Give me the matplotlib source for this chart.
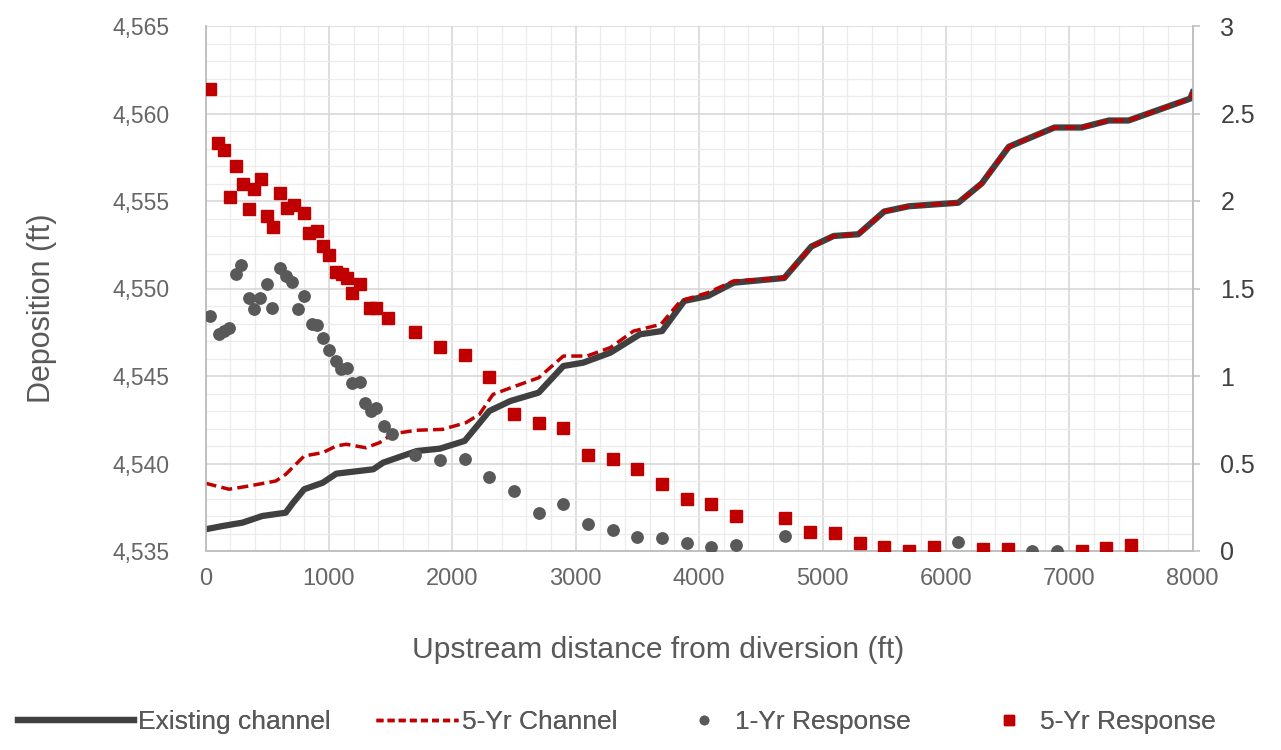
import matplotlib
matplotlib.use("Agg")
import matplotlib.pyplot as plt
from matplotlib.lines import Line2D
from matplotlib.ticker import MultipleLocator, FuncFormatter

plt.rcParams['font.family'] = ['Liberation Sans', 'DejaVu Sans']

# ---- data ----
exist_x = [0, 140, 300, 460, 650, 710, 800, 950, 1060, 1360, 1440, 1710, 1900, 2100,
           2200, 2300, 2470, 2700, 2900, 3060, 3280, 3520, 3700, 3880, 4070, 4280,
           4690, 4910, 5090, 5290, 5500, 5700, 6100, 6290, 6510, 6610, 6880, 7100,
           7320, 7480, 7980, 8000]
exist_y = [4536.24, 4536.43, 4536.62, 4537.0, 4537.19, 4537.76, 4538.53, 4538.9,
           4539.42, 4539.67, 4540.05, 4540.71, 4540.85, 4541.29, 4542.14, 4543.0,
           4543.57, 4544.05, 4545.57, 4545.76, 4546.33, 4547.38, 4547.57, 4549.29,
           4549.57, 4550.33, 4550.6, 4552.4, 4553.0, 4553.1, 4554.4, 4554.7, 4554.9,
           4556.0, 4558.1, 4558.4, 4559.2, 4559.2, 4559.6, 4559.6, 4560.85, 4561.2]

ch5_x = [0, 190, 350, 570, 650, 800, 950, 1060, 1140, 1300, 1410, 1520, 1710, 1920,
         2110, 2220, 2330, 2490, 2700, 2900, 3090, 3280, 3470, 3690, 3850, 4070, 4280,
         4690, 4910, 5090, 5290, 5500, 5700, 6100, 6290, 6510, 6610, 6880, 7100,
         7320, 7480, 7980, 8000]
ch5_y = [4538.87, 4538.53, 4538.71, 4539.0, 4539.38, 4540.43, 4540.62, 4541.0,
         4541.1, 4540.9, 4541.19, 4541.7, 4541.9, 4541.95, 4542.33, 4542.81, 4543.95,
         4544.37, 4544.9, 4546.14, 4546.14, 4546.62, 4547.57, 4547.95, 4549.29,
         4549.76, 4550.43, 4550.6, 4552.4, 4553.0, 4553.1, 4554.4, 4554.7, 4554.9,
         4556.0, 4558.1, 4558.4, 4559.2, 4559.2, 4559.6, 4559.6, 4560.85, 4561.2]

r1_x = [40, 110, 150, 190, 250, 290, 350, 440, 390, 500, 540, 600, 650, 700, 800,
        750, 860, 900, 950, 1000, 1060, 1100, 1150, 1190, 1250, 1290, 1340, 1380,
        1450, 1510, 1700, 1900, 2100, 2300, 2500, 2700, 2900, 3100, 3300, 3500,
        3700, 3900, 4100, 4300, 4700, 6100, 6700, 6900]
r1_y = [1.343, 1.242, 1.257, 1.273, 1.585, 1.634, 1.447, 1.447, 1.381, 1.524, 1.39,
        1.619, 1.571, 1.539, 1.457, 1.381, 1.299, 1.291, 1.219, 1.147, 1.086, 1.038,
        1.047, 0.962, 0.966, 0.847, 0.80, 0.819, 0.714, 0.667, 0.549, 0.518, 0.524,
        0.423, 0.343, 0.215, 0.27, 0.153, 0.118, 0.08, 0.073, 0.047, 0.025, 0.034,
        0.086, 0.051, 0.0, 0.0]

r5_x = [40, 100, 150, 200, 250, 300, 350, 390, 450, 500, 550, 600, 660, 720, 800,
        840, 900, 950, 1000, 1060, 1110, 1150, 1190, 1250, 1330, 1380, 1480, 1700,
        1900, 2100, 2300, 2500, 2700, 2900, 3100, 3300, 3500, 3700, 3900, 4100,
        4300, 4700, 4900, 5100, 5300, 5500, 5700, 5900, 6300, 6500, 7100, 7300, 7500]
r5_y = [2.638, 2.333, 2.29, 2.023, 2.198, 2.099, 1.956, 2.07, 2.124, 1.914, 1.853,
        2.047, 1.962, 1.977, 1.933, 1.819, 1.829, 1.743, 1.69, 1.596, 1.581, 1.562,
        1.473, 1.527, 1.39, 1.39, 1.333, 1.251, 1.166, 1.118, 0.994, 0.785, 0.733,
        0.701, 0.547, 0.524, 0.467, 0.385, 0.295, 0.27, 0.20, 0.187, 0.11, 0.101,
        0.044, 0.025, 0.0, 0.025, 0.013, 0.01, 0.0, 0.019, 0.033]

labels = ["Existing channel", "5-Yr Channel", "1-Yr Response", "5-Yr Response"]
x_ticks = [0, 1000, 2000, 3000, 4000, 5000, 6000, 7000, 8000]

GRAY_DARK = "#404040"
RED = "#c00000"
DOT = "#595959"
TXT = "#595959"

fig = plt.figure(figsize=(12.81, 7.5), dpi=100)
ax = fig.add_axes([205.5 / 1281, 1 - 551 / 750, (1192.7 - 205.5) / 1281, 525 / 750])
ax2 = ax.twinx()

ax.set_xlim(0, 8000)
ax.set_ylim(4535, 4565)
ax2.set_ylim(0, 3)

ax.xaxis.set_major_locator(MultipleLocator(1000))
ax.xaxis.set_minor_locator(MultipleLocator(200))
ax.yaxis.set_major_locator(MultipleLocator(5))
ax.yaxis.set_minor_locator(MultipleLocator(1))
ax.yaxis.set_major_formatter(FuncFormatter(lambda v, p: f"{v:,.0f}"))
ax2.yaxis.set_major_locator(MultipleLocator(0.5))
ax2.yaxis.set_major_formatter(FuncFormatter(lambda v, p: f"{v:g}"))

ax.grid(which="major", color="#d4d4d4", lw=1.1)
ax.grid(which="minor", color="#ececec", lw=0.9)
ax.set_axisbelow(True)

for a in (ax, ax2):
    a.spines["top"].set_visible(False)
    for s in ("left", "right", "bottom"):
        a.spines[s].set_color("#bfbfbf")
        a.spines[s].set_linewidth(1.1)

ax.tick_params(axis="x", which="both", length=0, pad=12, labelsize=17, labelcolor="#666666")
ax.tick_params(axis="y", which="both", length=0, pad=26, labelsize=16.5, labelcolor="#666666")
ax2.tick_params(axis="y", which="major", length=5, width=1.1, color="#bfbfbf",
                pad=15, labelsize=18, labelcolor="#404040")
ax2.tick_params(axis="y", which="minor", length=0)

ax.set_xticks(x_ticks)

ax.plot(exist_x, exist_y, color=GRAY_DARK, lw=4.5, solid_joinstyle="round", zorder=3)
ax.plot(ch5_x, ch5_y, color=RED, lw=2.5, ls=(0, (3.2, 1.5)), zorder=4)

ax2.plot(r1_x, r1_y, ls="none", marker="o", ms=8.2, color=DOT, zorder=5)
ax2.plot(r5_x, r5_y, ls="none", marker="s", ms=9.2, color=RED, zorder=6)

ax.set_xlabel("Upstream distance from diversion (ft)", fontsize=21.6, color=TXT)
ax.xaxis.set_label_coords(0.458, -0.162)
ax.set_ylabel("Deposition (ft)", fontsize=22, color=TXT)
ax.yaxis.set_label_coords(-0.150, 0.463)

# legend entries placed individually along the bottom
handles = [
    Line2D([], [], color=GRAY_DARK, lw=4.5),
    Line2D([], [], color=RED, lw=2.5, ls=(0, (2, 1.2))),
    Line2D([], [], ls="none", marker="o", ms=6, color=DOT),
    Line2D([], [], ls="none", marker="s", ms=7, color=RED),
]
lefts = [18, 376, 678, 983]
hlens = [4.4, 3.1, 2.0, 2.0]
for h, lab, xl, hl in zip(handles, labels, lefts, hlens):
    leg = fig.legend([h], [lab], loc="center left", bbox_to_anchor=(xl / 1281, 1 - 722 / 750),
                     frameon=False, fontsize=19, handlelength=hl, handletextpad=0.15,
                     borderpad=0, borderaxespad=0, labelcolor=TXT)
    fig.add_artist(leg)

fig.savefig("out.png", dpi=100, facecolor="white")
